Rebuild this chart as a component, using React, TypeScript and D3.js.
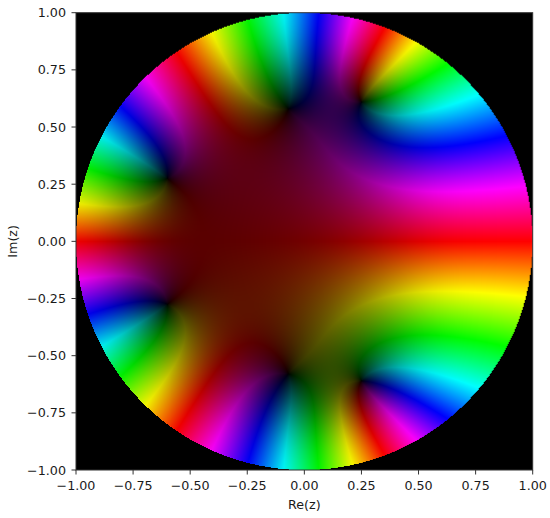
import React, { useEffect, useState } from "react";
import * as d3 from "d3";

// Zeros of the polynomial in the upper half plane (conjugates are added below)
const zeroRe = [0.25, -0.07, -0.6];
const zeroIm = [0.61, 0.58, 0.275];
const valueGamma = 0.7;
const valueGain = 4.1;
const ticks = [-1, -0.75, -0.5, -0.25, 0, 0.25, 0.5, 0.75, 1];

const L = 76, R = 532.7, T = 12.7, B = 470;
const x = d3.scaleLinear().domain([-1, 1]).range([L, R]);
const y = d3.scaleLinear().domain([-1, 1]).range([B, T]);
const fmt = (t: number) => d3.format(".2f")(t).replace("-", "\u2212");

function hsv(h: number, v: number): [number, number, number] {
  const k = (n: number) => {
    const m = (n + h / 60) % 6;
    return v * (1 - Math.max(0, Math.min(m, 4 - m, 1)));
  };
  return [k(5) * 255, k(3) * 255, k(1) * 255];
}

function render(): string {
  const W = Math.round(R - L), H = Math.round(B - T);
  const c = document.createElement("canvas");
  c.width = W; c.height = H;
  const ctx = c.getContext("2d")!;
  const img = ctx.createImageData(W, H);
  const zs: [number, number][] = [];
  zeroRe.forEach((r, i) => { zs.push([r, zeroIm[i]]); zs.push([r, -zeroIm[i]]); });
  const px = d3.scaleLinear().domain([0, W]).range([-1, 1]);
  const py = d3.scaleLinear().domain([0, H]).range([1, -1]);
  for (let j = 0; j < H; j++) for (let i = 0; i < W; i++) {
    const a = px(i + 0.5), b = py(j + 0.5);
    const o = (j * W + i) * 4;
    img.data[o + 3] = 255;
    if (a * a + b * b > 1) continue;
    let fr = 1, fi = 0;
    for (const [p, q] of zs) {
      const tr = a - p, ti = b - q;
      const u = fr * tr - fi * ti;
      fi = fr * ti + fi * tr; fr = u;
    }
    const mod = Math.hypot(fr, fi);
    const hue = ((-Math.atan2(fi, fr) * 180 / Math.PI) % 360 + 360) % 360;
    const [r, g, bl] = hsv(hue, 1 - Math.exp(-valueGain * Math.pow(mod, valueGamma)));
    img.data[o] = r; img.data[o + 1] = g; img.data[o + 2] = bl;
  }
  ctx.putImageData(img, 0, 0);
  return c.toDataURL();
}

export default function App() {
  const [src, setSrc] = useState("");
  useEffect(() => setSrc(render()), []);
  const font = "'DejaVu Sans', sans-serif";
  return (
    <svg width={550} height={518} style={{ position: "absolute", left: 0, top: 0, background: "#fff" }} fontFamily={font} fontSize={12.7} fill="#1a1a1a">
      {src && <image href={src} x={L} y={T} width={R - L} height={B - T} preserveAspectRatio="none" />}
      <rect x={L} y={T} width={R - L} height={B - T} fill="none" stroke="#333" strokeWidth={1} />
      {ticks.map(t => (
        <g key={"x" + t}>
          <line x1={x(t)} x2={x(t)} y1={B} y2={B + 4.5} stroke="#333" />
          <text x={x(t)} y={490.3} textAnchor="middle">{fmt(t)}</text>
        </g>
      ))}
      {ticks.map(t => (
        <g key={"y" + t}>
          <line x1={L - 4.5} x2={L} y1={y(t)} y2={y(t)} stroke="#333" />
          <text x={66} y={y(t) + 4.6} textAnchor="end">{fmt(t)}</text>
        </g>
      ))}
      <text x={(L + R) / 2} y={509} textAnchor="middle">Re(z)</text>
      <text transform={`translate(16.5,${(T + B) / 2}) rotate(-90)`} textAnchor="middle">Im(z)</text>
    </svg>
  );
}
